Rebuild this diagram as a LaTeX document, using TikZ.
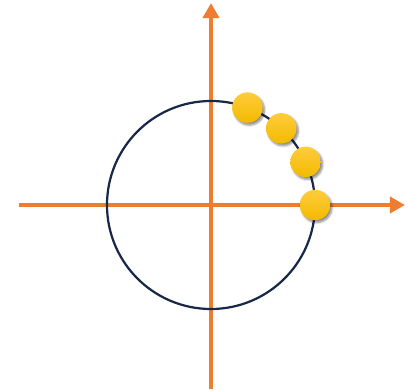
\documentclass[tikz,border=0pt]{standalone}
\usepackage{xcolor}
\usepackage{tikz}
\usetikzlibrary{positioning, arrows.meta, shadows.blur}

\definecolor{axisorange}{RGB}{237,125,49}
\definecolor{ringnavy}{RGB}{25,40,72}
\definecolor{goldtop}{RGB}{255,204,60}
\definecolor{goldbot}{RGB}{242,186,0}

\begin{document}
\begin{tikzpicture}[scale=0.03,
  axis/.style={axisorange, line width=3.4pt, -{Triangle[length=12.8pt, width=13.6pt]}},
  ring/.style={ringnavy, line width=1.9pt},
  ball/.style={circle, minimum size=26pt, inner sep=0pt, top color=goldtop, bottom color=goldbot,
    blur shadow={shadow xshift=1.6pt, shadow yshift=-2pt, shadow blur steps=6, shadow opacity=45}}]
\useasboundingbox (-211,-186) rectangle (199,205);
% Axes
\coordinate (Left) at (-192,0);
\coordinate (Right) at (194,0);
\coordinate (Bottom) at (0,-184);
\coordinate (Top) at (0,202);
\draw[axis] (Left) -- (Right);
\draw[axis] (Bottom) -- (Top);
% Circle
\coordinate (O) at (0,0);
\draw[ring] (O) circle (104);
% Points on the circle
\foreach \i/\a in {0/0, 1/24.5, 2/47.5, 3/69.5} {
  \node[ball] (P\i) at (\a:104) {};
}
\end{tikzpicture}
\end{document}
